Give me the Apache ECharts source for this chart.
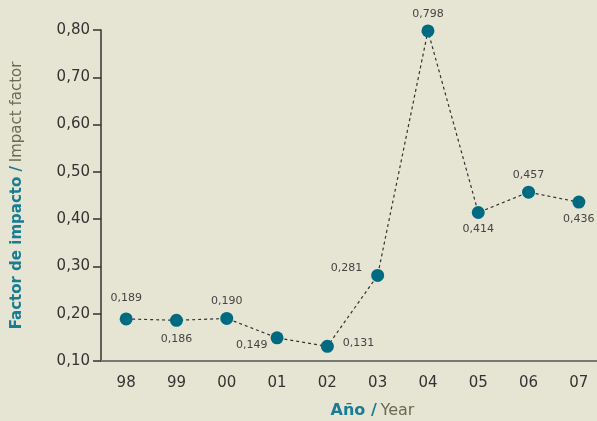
<!DOCTYPE html>
<html><head><meta charset="utf-8">
<script src="https://cdn.jsdelivr.net/npm/echarts@6/dist/echarts.min.js"></script>
<style>html,body{margin:0;padding:0;background:#e6e4d2;overflow:hidden;width:597px;height:421px;}#c{width:610px;height:421px;}</style>
</head><body><div id="c"></div>
<script>
const years = ['98','99','00','01','02','03','04','05','06','07'];
const impact = [0.189, 0.186, 0.190, 0.149, 0.131, 0.281, 0.798, 0.414, 0.457, 0.436];
const labelPos = ['top','bottom','top','left','right','left','top','bottom','top','bottom'];
const labelOffset = [[0,0],[0,-2],[0,4],[6,7],[0,-3],[0,-7],[0,4],[0,-4],[0,4],[0,-4]];
const yTicks = {min: 0.1, max: 0.8, interval: 0.1};

const fmt = v => v.toFixed(3).replace('.', ',');
const chart = echarts.init(document.getElementById('c'));
chart.setOption({
  backgroundColor: '#e6e4d2',
  textStyle: {fontFamily: 'DejaVu Sans'},
  grid: {left: 101, right: 6, top: 30, bottom: 60, outerBoundsMode: 'none', containLabel: false},
  xAxis: {
    type: 'category', data: years, boundaryGap: true,
    axisLine: {lineStyle: {color: '#777', width: 2}},
    axisTick: {alignWithLabel: true, length: 6, lineStyle: {color: '#444', width: 1.5}},
    axisLabel: {color: '#333', fontSize: 15, margin: 15},
    name: '{a|Año /} {b|Year}', nameLocation: 'middle', nameGap: 42,
    nameTextStyle: {padding: [0, 0, 0, 40], rich: {
      a: {color: '#1a7c92', fontSize: 16, fontWeight: 600, fontFamily: 'DejaVu Sans'},
      b: {color: '#6b6a55', fontSize: 16, fontFamily: 'DejaVu Sans'}
    }}
  },
  yAxis: {
    type: 'value', min: yTicks.min, max: yTicks.max, interval: yTicks.interval,
    splitLine: {show: false},
    axisLine: {show: true, lineStyle: {color: '#333', width: 1.5}},
    axisTick: {show: true, length: 8, lineStyle: {color: '#333', width: 1.5}},
    axisLabel: {color: '#333', fontSize: 15, margin: 11, formatter: v => v.toFixed(2).replace('.', ',')},
    name: '{a|Factor de impacto /} {b|Impact factor}', nameLocation: 'middle', nameGap: 76, nameRotate: 90,
    nameTextStyle: {padding: [0, 0, 0, 0], rich: {
      a: {color: '#1a7c92', fontSize: 15, fontWeight: 600, fontFamily: 'DejaVu Sans'},
      b: {color: '#6b6a55', fontSize: 15, fontFamily: 'DejaVu Sans'}
    }}
  },
  series: [{
    type: 'line',
    data: impact.map((v, i) => ({value: v, label: {position: labelPos[i], offset: labelOffset[i]}})),
    symbol: 'circle', symbolSize: 13,
    itemStyle: {color: '#006b80'},
    lineStyle: {color: '#333', width: 1.2, type: [3, 3]},
    label: {show: true, color: '#444', fontSize: 11, distance: 9, formatter: p => fmt(p.value)},
    animation: false
  }]
});
</script></body></html>
